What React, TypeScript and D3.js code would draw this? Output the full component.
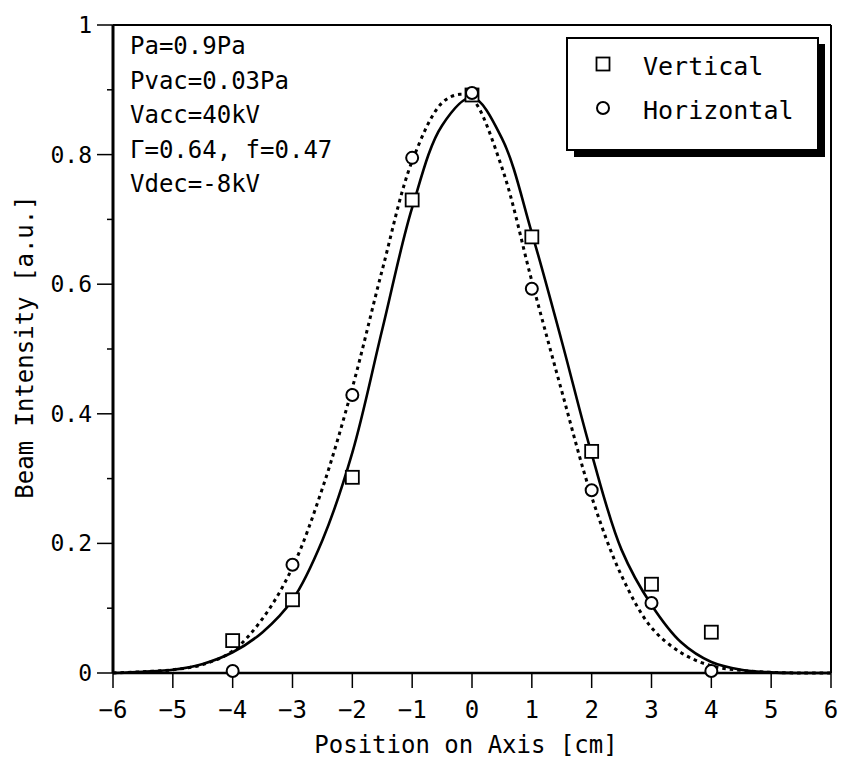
import React from 'react';
import * as d3 from 'd3';

// measured points
const positions = [-4, -3, -2, -1, 0, 1, 2, 3, 4];
const vertical = [0.05, 0.113, 0.302, 0.73, 0.892, 0.673, 0.342, 0.137, 0.063];
const horizontal = [0.003, 0.167, 0.429, 0.795, 0.895, 0.593, 0.282, 0.108, 0.003];

// fitted curves
const fitX = [-6, -5.5, -5, -4.5, -4, -3.5, -3, -2.5, -2, -1.5, -1, -0.5, 0, 0.5, 1, 1.5, 2, 2.5, 3, 3.5, 4, 4.5, 5, 5.5, 6];
const vertFit = [0, 0.002, 0.005, 0.014, 0.032, 0.063, 0.113, 0.205, 0.34, 0.53, 0.718, 0.845, 0.888, 0.825, 0.679, 0.512, 0.338, 0.19, 0.105, 0.047, 0.017, 0.005, 0.001, 0, 0];
const horizFitX = [-6, -5.5, -5, -4.5, -4, -3.5, -3, -2.5, -2, -1.5, -1, -0.5, -0.2, 0, 0.5, 1, 1.5, 2, 2.5, 3, 3.5, 4, 4.5, 5, 5.5, 6];
const horizFit = [0, 0.002, 0.005, 0.013, 0.034, 0.084, 0.163, 0.285, 0.44, 0.622, 0.79, 0.88, 0.893, 0.887, 0.78, 0.605, 0.435, 0.272, 0.15, 0.07, 0.031, 0.011, 0.004, 0.001, 0, 0];

const xTicks = [-6, -5, -4, -3, -2, -1, 0, 1, 2, 3, 4, 5, 6];
const yTicks = [0, 0.2, 0.4, 0.6, 0.8, 1];
const yMinor = [0.1, 0.3, 0.5, 0.7, 0.9];
const notes = ['Pa=0.9Pa', 'Pvac=0.03Pa', 'Vacc=40kV', 'Γ=0.64, f=0.47', 'Vdec=-8kV'];

const FONT = '"DejaVu Sans Mono", "Liberation Mono", monospace';

const fmtX = (v: number) => (v < 0 ? '−' + Math.abs(v) : String(v));
const fmtY = (v: number) => (v === 0 || v === 1 ? String(v) : v.toFixed(1));

export default function App() {
  const width = 841;
  const height = 759;
  const x = d3.scaleLinear().domain([-6, 6]).range([113, 831]);
  const y = d3.scaleLinear().domain([0, 1]).range([673, 25]);

  const line = d3
    .line<[number, number]>()
    .x(d => x(d[0]))
    .y(d => y(d[1]))
    .curve(d3.curveCatmullRom.alpha(0.5));

  const vPath = line(fitX.map((v, i) => [v, vertFit[i]]) as [number, number][]) || '';
  const hPath = line(horizFitX.map((v, i) => [v, horizFit[i]]) as [number, number][]) || '';

  const sq = 13;
  const r = 6;

  return (
    <div style={{ position: 'fixed', left: 0, top: 0 }}>
      <svg width={width} height={height} style={{ display: 'block', background: '#fff' }}>
        {/* frame */}
        <line x1={x(-6)} x2={x(6)} y1={y(1)} y2={y(1)} stroke="#000" strokeWidth={2} />
        <line x1={x(6)} x2={x(6)} y1={y(1)} y2={y(0)} stroke="#000" strokeWidth={2} />
        <line x1={x(-6)} x2={x(6)} y1={y(0)} y2={y(0)} stroke="#000" strokeWidth={2.5} />
        <line x1={x(-6)} x2={x(-6)} y1={y(1)} y2={y(0)} stroke="#000" strokeWidth={3} />

        {/* x ticks */}
        {xTicks.map(t => (
          <g key={'x' + t}>
            <line x1={x(t)} x2={x(t)} y1={y(0)} y2={y(0) + 15} stroke="#000" strokeWidth={1.5} />
            <text x={x(t)} y={710} textAnchor="middle" dominantBaseline="central" fontFamily={FONT} fontSize={24}>
              {fmtX(t)}
            </text>
          </g>
        ))}

        {/* y ticks */}
        {yTicks.map(t => (
          <g key={'y' + t}>
            <line x1={x(-6) - 16} x2={x(-6)} y1={y(t)} y2={y(t)} stroke="#000" strokeWidth={1.5} />
            <text x={92} y={y(t)} textAnchor="end" dominantBaseline="central" fontFamily={FONT} fontSize={23}>
              {fmtY(t)}
            </text>
          </g>
        ))}
        {yMinor.map(t => (
          <line key={'m' + t} x1={x(-6) - 6} x2={x(-6)} y1={y(t)} y2={y(t)} stroke="#000" strokeWidth={1.5} />
        ))}

        {/* axis titles */}
        <text x={466} y={745} textAnchor="middle" dominantBaseline="central" fontFamily={FONT} fontSize={24}>
          Position on Axis [cm]
        </text>
        <text
          transform={`translate(25,${y(0.5) - 2}) rotate(-90)`}
          textAnchor="middle"
          dominantBaseline="central"
          fontFamily={FONT}
          fontSize={24}
        >
          Beam Intensity [a.u.]
        </text>

        {/* fits */}
        <path d={hPath} fill="none" stroke="#000" strokeWidth={3} strokeDasharray="3.5 4" />
        <path d={vPath} fill="none" stroke="#000" strokeWidth={2.6} />

        {/* data */}
        {positions.map((p, i) => (
          <rect
            key={'v' + p}
            x={x(p) - sq / 2}
            y={y(vertical[i]) - sq / 2}
            width={sq}
            height={sq}
            fill="#fff"
            stroke="#000"
            strokeWidth={1.8}
          />
        ))}
        {positions.map((p, i) => (
          <circle key={'h' + p} cx={x(p)} cy={y(horizontal[i])} r={r} fill="#fff" stroke="#000" strokeWidth={2} />
        ))}

        {/* annotations */}
        {notes.map((n, i) => (
          <text key={n} x={130} y={46 + i * 34.5} dominantBaseline="central" fontFamily={FONT} fontSize={24}>
            {n}
          </text>
        ))}

        {/* legend */}
        <rect x={574} y={44} width={251} height={113} fill="#000" />
        <rect x={567} y={38} width={251} height={112} fill="#fff" stroke="#000" strokeWidth={2} />
        <rect x={603 - sq / 2} y={64 - sq / 2} width={sq} height={sq} fill="#fff" stroke="#000" strokeWidth={1.8} />
        <text x={643} y={66} dominantBaseline="central" fontFamily={FONT} fontSize={25}>
          Vertical
        </text>
        <circle cx={603} cy={108} r={r} fill="#fff" stroke="#000" strokeWidth={2} />
        <text x={643} y={110} dominantBaseline="central" fontFamily={FONT} fontSize={25}>
          Horizontal
        </text>
      </svg>
    </div>
  );
}
